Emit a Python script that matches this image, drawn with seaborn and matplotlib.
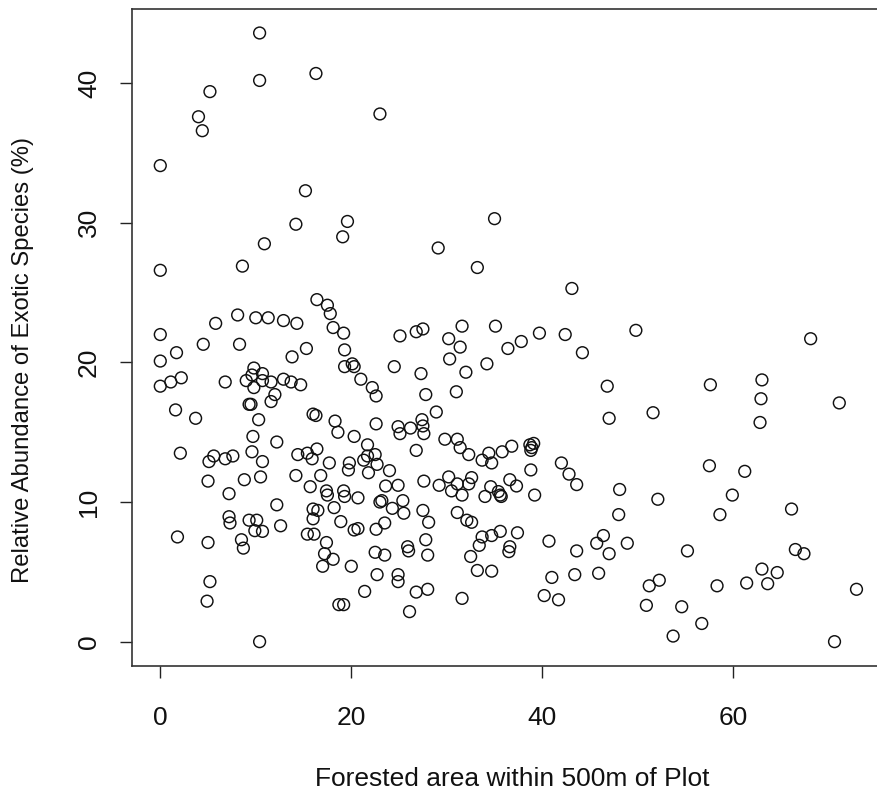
import matplotlib
matplotlib.use("Agg")
import matplotlib.pyplot as plt
import seaborn as sns
import pandas as pd

forested = [
    10.4, 16.3, 10.4, 5.2, 4.0, 4.4, 23.0, 0.0, 15.2, 14.2,
    19.6, 19.1, 10.9, 0.0, 8.6, 16.4, 17.5, 17.8, 8.1, 10.0,
    11.3, 12.9, 14.3, 5.8, 18.1, 19.2, 0.0, 4.5, 8.3, 1.7,
    15.3, 19.3, 35.0, 29.1, 33.2, 43.1, 25.1, 26.8, 27.5, 30.2,
    31.6, 31.4, 35.1, 36.4, 37.8, 39.7, 42.4, 44.2, 49.8, 68.1,
    0.0, 13.8, 19.3, 20.1, 20.3, 9.8, 0.0, 1.1, 2.2, 6.8,
    9.0, 9.6, 10.7, 9.8, 10.7, 11.6, 12.9, 13.7, 14.7, 21.0,
    22.2, 22.6, 12.0, 11.6, 9.3, 9.5, 1.6, 3.7, 10.3, 16.0,
    16.3, 18.3, 18.6, 22.6, 9.7, 12.2, 20.3, 21.7, 2.1, 5.6,
    5.1, 6.8, 7.6, 9.6, 10.7, 14.4, 15.4, 15.9, 16.4, 17.7,
    19.8, 19.7, 21.3, 21.7, 22.5, 22.7, 21.8, 5.0, 8.8, 10.5,
    14.2, 16.8, 15.7, 17.4, 17.5, 19.2, 19.3, 20.7, 23.0, 7.2,
    12.2, 16.0, 16.5, 18.2, 18.9, 7.2, 7.3, 9.3, 10.1, 9.9,
    10.7, 12.6, 1.8, 5.0, 8.5, 8.7, 16.0, 15.4, 16.1, 17.4,
    17.2, 18.1, 17.0, 20.0, 20.3, 20.7, 22.6, 22.5, 22.7, 5.2,
    4.9, 21.4, 18.7, 19.2, 10.4, 30.3, 24.5, 27.3, 34.2, 32.0,
    27.8, 31.0, 46.8, 47.0, 28.9, 24.9, 25.1, 26.2, 27.4, 27.5,
    27.6, 29.8, 31.1, 31.4, 32.3, 33.7, 34.4, 34.7, 35.8, 36.8,
    38.7, 38.9, 38.8, 39.1, 26.8, 24.0, 38.8, 42.0, 42.8, 43.6,
    48.1, 23.6, 24.9, 27.6, 29.2, 30.2, 31.1, 30.5, 31.6, 32.3,
    32.6, 34.0, 34.6, 35.4, 35.6, 35.7, 36.6, 37.3, 39.2, 23.2,
    24.3, 25.4, 25.5, 27.5, 31.1, 23.5, 48.0, 32.1, 32.6, 28.1,
    27.8, 33.7, 34.7, 35.6, 37.4, 33.4, 32.5, 36.6, 36.5, 23.5,
    25.9, 26.0, 28.0, 24.9, 24.9, 26.8, 28.0, 26.1, 33.2, 34.7,
    31.6, 40.7, 41.0, 40.2, 41.7, 43.6, 43.4, 45.7, 46.4, 47.0,
    45.9, 57.6, 63.0, 62.9, 62.8, 71.1, 51.6, 57.5, 61.2, 52.1,
    59.9, 66.1, 58.6, 48.9, 55.2, 66.5, 67.4, 63.0, 64.6, 63.6,
    61.4, 58.3, 52.25, 51.2, 50.9, 54.6, 56.7, 53.7, 70.6, 72.9,
]

exotic = [
    43.6, 40.7, 40.2, 39.4, 37.6, 36.6, 37.8, 34.1, 32.3, 29.9,
    30.1, 29.0, 28.5, 26.6, 26.9, 24.5, 24.1, 23.5, 23.4, 23.2,
    23.2, 23.0, 22.8, 22.8, 22.5, 22.1, 22.0, 21.3, 21.3, 20.7,
    21.0, 20.9, 30.3, 28.2, 26.8, 25.3, 21.9, 22.2, 22.4, 21.7,
    22.6, 21.1, 22.6, 21.0, 21.5, 22.1, 22.0, 20.7, 22.3, 21.7,
    20.1, 20.4, 19.7, 19.9, 19.7, 19.6, 18.3, 18.6, 18.9, 18.6,
    18.7, 19.1, 19.2, 18.2, 18.7, 18.6, 18.8, 18.6, 18.4, 18.8,
    18.2, 17.6, 17.7, 17.2, 17.0, 17.0, 16.6, 16.0, 15.9, 16.3,
    16.2, 15.8, 15.0, 15.6, 14.7, 14.3, 14.7, 14.1, 13.5, 13.3,
    12.9, 13.1, 13.3, 13.6, 12.9, 13.4, 13.5, 13.1, 13.8, 12.8,
    12.8, 12.3, 13.0, 13.3, 13.4, 12.7, 12.1, 11.5, 11.6, 11.8,
    11.9, 11.9, 11.1, 10.8, 10.5, 10.8, 10.4, 10.3, 10.0, 10.6,
    9.8, 9.5, 9.4, 9.6, 8.6, 8.95, 8.5, 8.7, 8.7, 7.95,
    7.9, 8.3, 7.5, 7.1, 7.3, 6.7, 8.8, 7.7, 7.7, 7.1,
    6.3, 5.9, 5.4, 5.4, 8.0, 8.1, 8.05, 6.4, 4.8, 4.3,
    2.9, 3.6, 2.65, 2.65, 0.0, 20.25, 19.7, 19.2, 19.9, 19.3,
    17.7, 17.9, 18.3, 16.0, 16.45, 15.4, 14.9, 15.3, 15.9, 15.45,
    14.9, 14.5, 14.5, 13.9, 13.4, 13.0, 13.5, 12.8, 13.6, 14.0,
    14.1, 13.9, 13.7, 14.2, 13.7, 12.25, 12.3, 12.8, 12.0, 11.25,
    10.9, 11.15, 11.2, 11.5, 11.2, 11.8, 11.3, 10.8, 10.5, 11.3,
    11.75, 10.4, 11.1, 10.75, 10.5, 10.4, 11.6, 11.15, 10.5, 10.1,
    9.55, 10.1, 9.2, 9.4, 9.25, 8.5, 9.1, 8.7, 8.55, 8.55,
    7.3, 7.5, 7.6, 7.9, 7.8, 6.9, 6.1, 6.8, 6.45, 6.2,
    6.8, 6.5, 6.2, 4.8, 4.3, 3.55, 3.75, 2.15, 5.1, 5.05,
    3.1, 7.2, 4.6, 3.3, 3.0, 6.5, 4.8, 7.05, 7.6, 6.3,
    4.9, 18.4, 18.75, 17.4, 15.7, 17.1, 16.4, 12.6, 12.2, 10.2,
    10.5, 9.5, 9.1, 7.05, 6.5, 6.6, 6.3, 5.2, 4.95, 4.15,
    4.2, 4.0, 4.4, 4.0, 2.6, 2.5, 1.3, 0.4, 0.0, 3.75,
]

x_ticks = [0, 20, 40, 60]
y_ticks = [0, 10, 20, 30, 40]
x_label = "Forested area within 500m of Plot"
y_label = "Relative Abundance of Exotic Species (%)"

df = pd.DataFrame({"forested": forested, "exotic": exotic})

sns.set_theme(style="white")
plt.rcParams["font.family"] = ["Liberation Sans", "DejaVu Sans"]

W, H = 878, 794
fig = plt.figure(figsize=(W / 100, H / 100), dpi=100)
left_px, right_px, top_px, bottom_px = 132.3, 883.8, 8.7, 666.0
ax = fig.add_axes([left_px / W, 1 - bottom_px / H,
                   (right_px - left_px) / W, (bottom_px - top_px) / H])

sns.scatterplot(data=df, x="forested", y="exotic", ax=ax,
                marker="o", s=72, facecolor="none", edgecolor="#111111",
                linewidth=1.05, legend=False)

ax.set_xlim(-2.93, 75.76)
ax.set_ylim(-1.744, 45.34)
ax.set_xticks(x_ticks)
ax.set_yticks(y_ticks)
ax.set_xticklabels([str(t) for t in x_ticks])
ax.set_yticklabels([str(t) for t in y_ticks], rotation=90, va="center")

fs = 19
ax.tick_params(axis="both", direction="out", length=8.6, width=1.0,
               color="#222222", labelsize=fs, labelcolor="#111111",
               bottom=True, left=True, top=False, right=False)
ax.tick_params(axis="x", pad=20.5)
ax.tick_params(axis="y", pad=14)
for sp in ax.spines.values():
    sp.set_color("#333333")
    sp.set_linewidth(1.2)

ax.set_xlabel(x_label, fontsize=fs, color="#111111")
ax.set_ylabel(y_label, fontsize=17.2, color="#111111")
ax.xaxis.set_label_coords((512 - left_px) / (right_px - left_px),
                          -(767 - bottom_px) / (bottom_px - top_px))
ax.yaxis.set_label_coords(-(132.3 - 34) / (right_px - left_px),
                          (bottom_px - 360) / (bottom_px - top_px))
ax.grid(False)

fig.savefig("out.png", dpi=100)
